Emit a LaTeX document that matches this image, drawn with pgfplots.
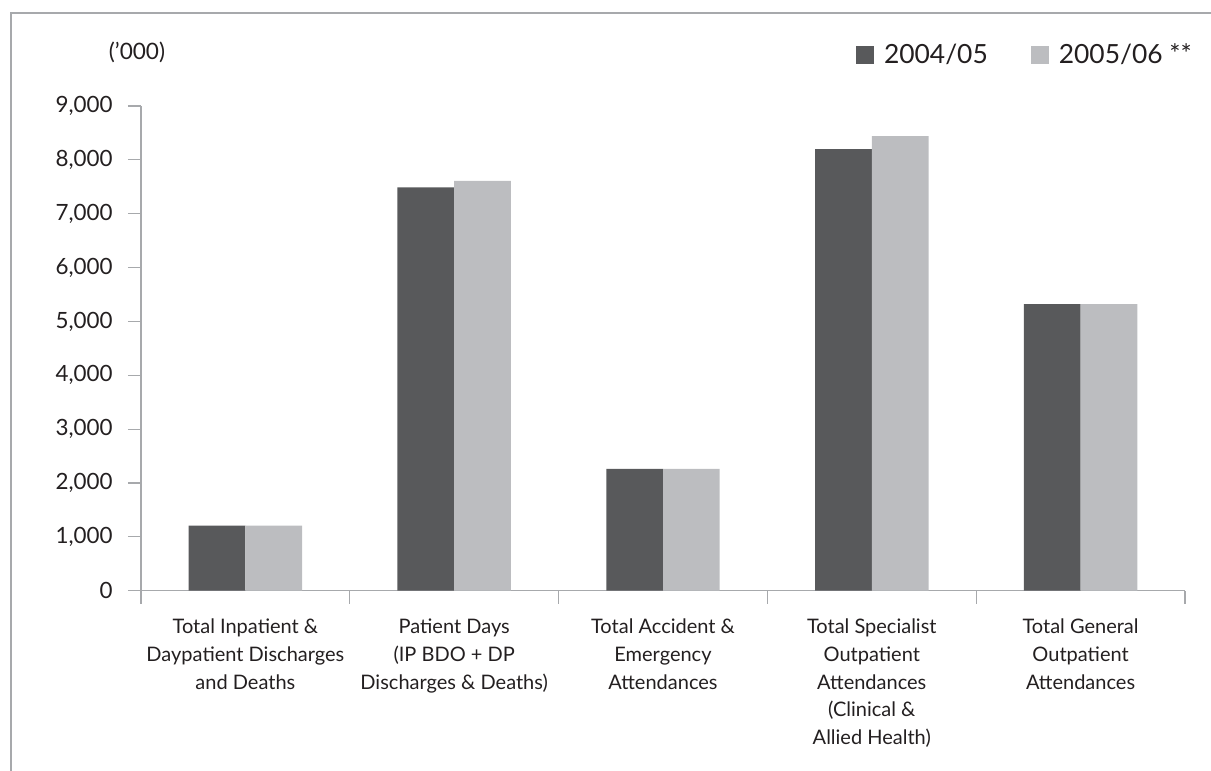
\documentclass[border=0pt]{standalone}
\usepackage{pgfplots}
\pgfplotsset{compat=1.18}
\usepackage{fontspec}
\setmainfont{Lato}
\definecolor{darkbar}{HTML}{58595B}
\definecolor{lightbar}{HTML}{BCBDC0}
\definecolor{axgray}{HTML}{A7A9AC}
\definecolor{txt}{HTML}{231F20}
\begin{document}
\begin{tikzpicture}[x=1pt,y=1pt]
\useasboundingbox (0,0) rectangle (605.5,385.5);
\draw[axgray, line width=0.65pt] (5.5,0) -- (5.5,379) -- (605.5,379);
\node[font=\fontsize{11.3}{13}\selectfont, text=txt, inner sep=0pt] at (68.5,359.5) {(’000)};
\begin{axis}[
  at={(70.5pt,90.15pt)}, anchor=south west,
  scale only axis, width=522pt, height=242.35pt,
  xmin=-0.5, xmax=4.5, ymin=0, ymax=9000,
  ybar=0pt, bar width=0.2716,
  axis x line*=bottom, axis y line*=left,
  axis line style={axgray, line width=0.6pt, -},
  ytick={0,1000,...,9000},
  xtick={-0.5,0.5,...,4.5},
  x tick label as interval,
  xticklabels={
    {Total Inpatient \&\\Daypatient Discharges\\and Deaths},
    {Patient Days\\(IP BDO + DP\\Discharges \& Deaths)},
    {Total Accident \&\\Emergency\\Attendances},
    {Total Specialist\\Outpatient\\Attendances\\(Clinical \&\\Allied Health)},
    {Total General\\Outpatient\\Attendances}},
  tick align=outside, major tick length=6.5pt,
  tick style={axgray, line width=0.6pt},
  /pgf/number format/.cd, 1000 sep={,}, assume math mode=true, /pgfplots/.cd,
  yticklabel style={font=\fontsize{11.2}{13}\selectfont, text=txt, inner sep=0pt, xshift=-7.5pt},
  xticklabel style={font=\fontsize{10}{13.85}\selectfont, text=txt, align=center, inner sep=0pt, yshift=-7.5pt},
  legend style={at={(0.6849,1.1042)}, anchor=west, draw=none, fill=none,
    legend columns=2, font=\fontsize{13.2}{15}\selectfont, text=txt,
    inner sep=0pt, outer sep=0pt,
    nodes={inner sep=0pt},
    /tikz/every odd column/.append style={column sep=5pt},
    /tikz/every even column/.append style={column sep=21.5pt}},
  legend image code/.code={\fill[#1] (0pt,-4.5pt) rectangle (9pt,4.5pt);},
]
\addplot[fill=darkbar, draw=none] coordinates {(0,1210) (1,7490) (2,2260) (3,8200) (4,5320)};
\addplot[fill=lightbar, draw=none] coordinates {(0,1210) (1,7610) (2,2260) (3,8440) (4,5320)};
\legend{2004/05, 2005/06 **}
\end{axis}
\end{tikzpicture}
\end{document}
